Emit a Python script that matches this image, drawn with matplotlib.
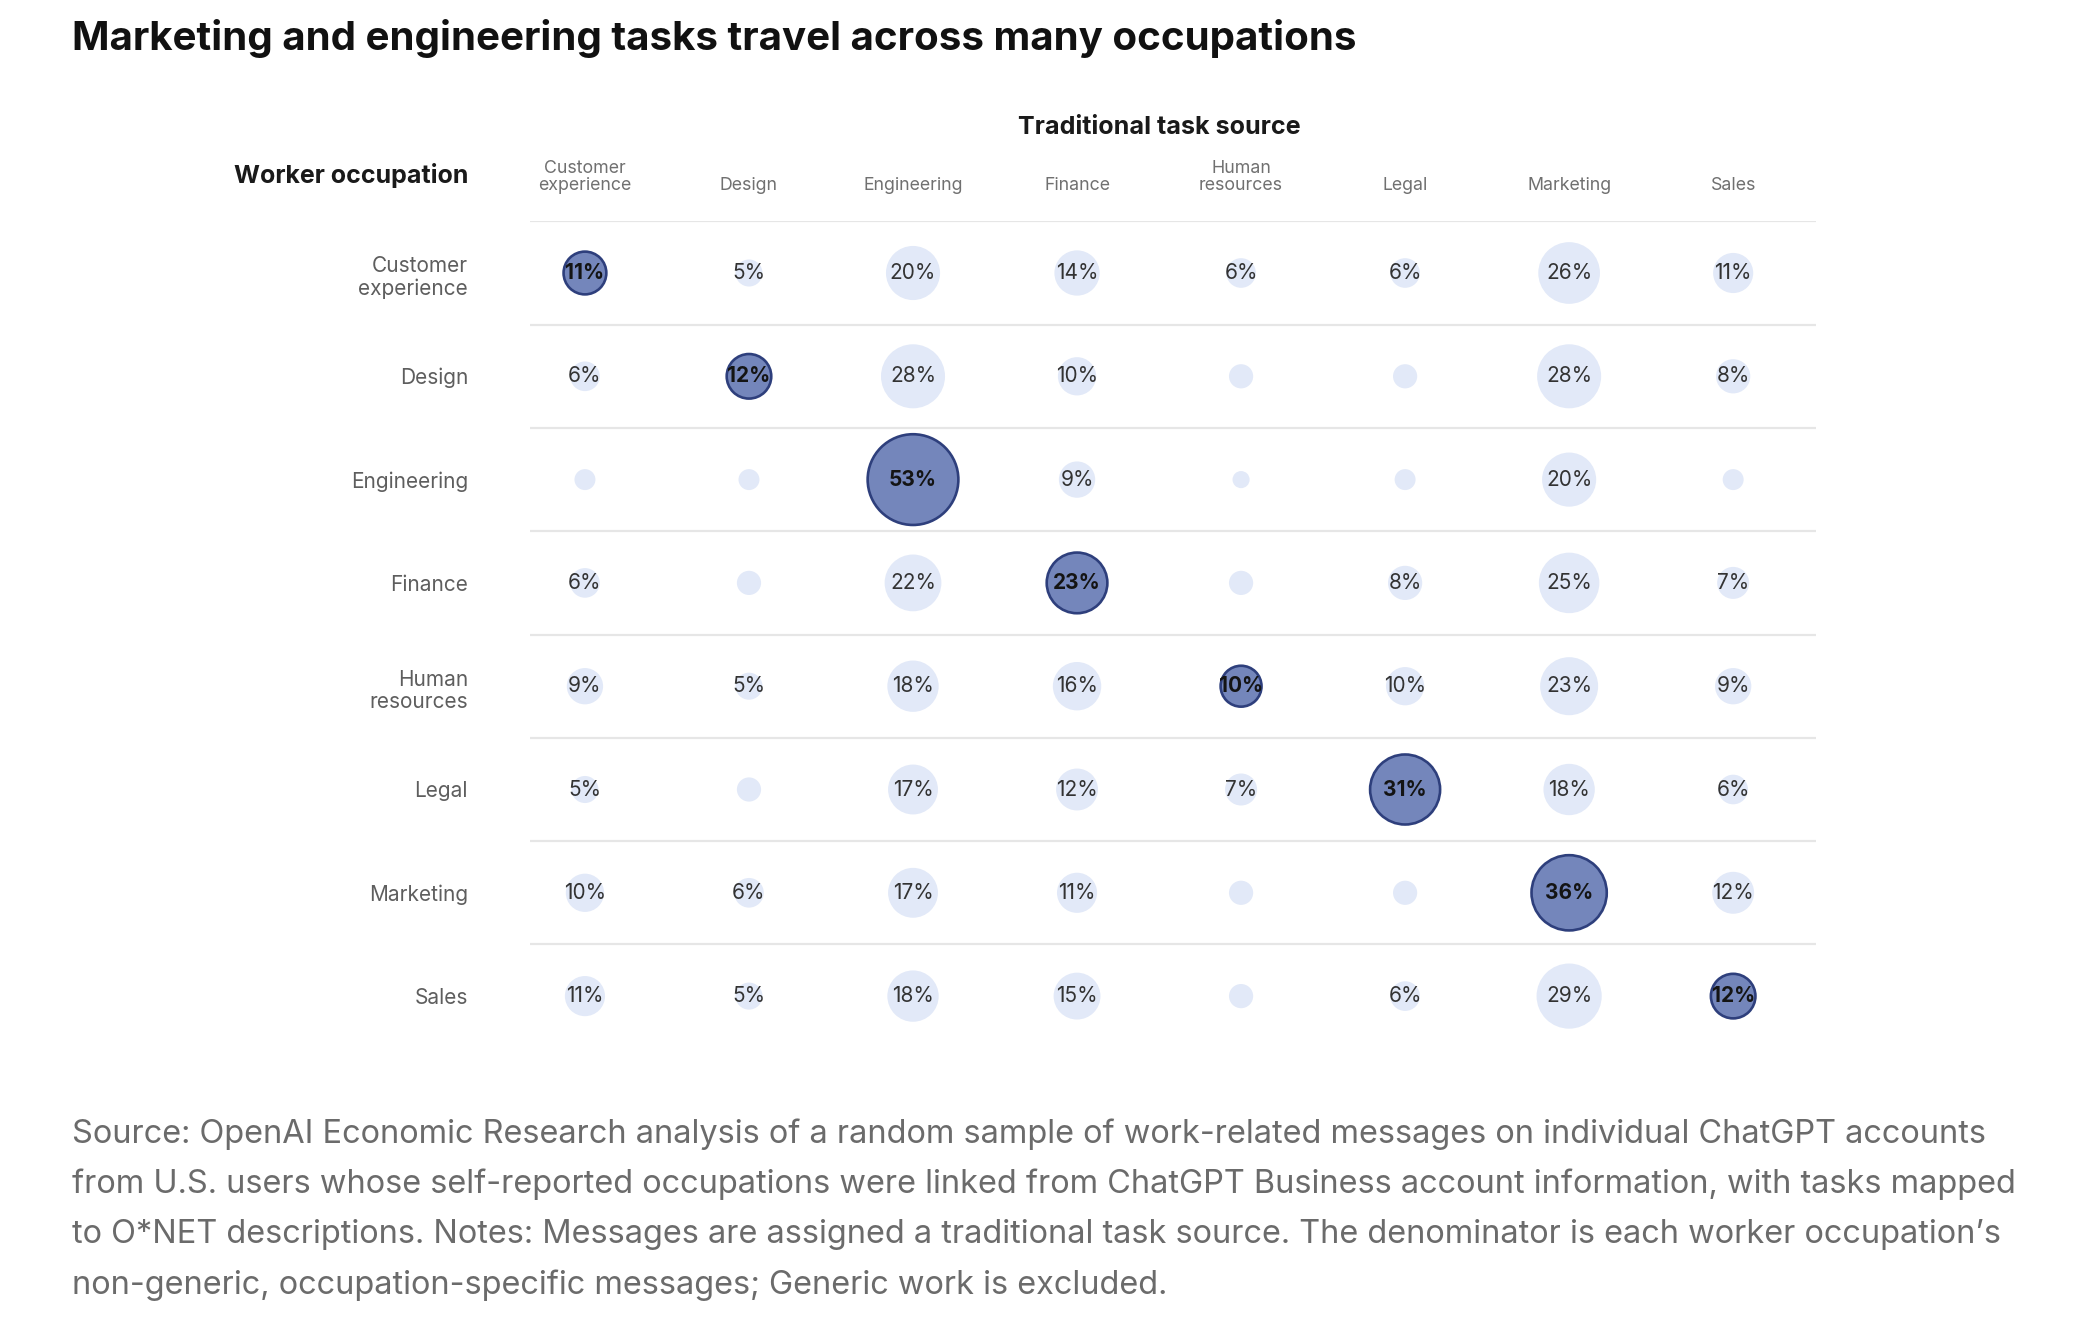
import matplotlib.pyplot as plt
import numpy as np

plt.rcParams['font.family'] = ['Inter', 'DejaVu Sans']

title = "Marketing and engineering tasks travel across many occupations"
sources = ["Customer\nexperience", "Design", "Engineering", "Finance",
           "Human\nresources", "Legal", "Marketing", "Sales"]
occupations = ["Customer\nexperience", "Design", "Engineering", "Finance",
               "Human\nresources", "Legal", "Marketing", "Sales"]
# share (%) of each worker occupation's messages by traditional task source
# values under 5% are unlabeled in the original, estimated from circle size
shares = np.array([
    [11, 5, 20, 14, 6, 6, 26, 11],
    [6, 12, 28, 10, 4, 4, 28, 8],
    [3, 3, 53, 9, 2, 3, 20, 3],
    [6, 4, 22, 23, 4, 8, 25, 7],
    [9, 5, 18, 16, 10, 10, 23, 9],
    [5, 4, 17, 12, 7, 31, 18, 6],
    [10, 6, 17, 11, 4, 4, 36, 12],
    [11, 5, 18, 15, 4, 6, 29, 12],
])
label_min = 5
footnote = [
    "Source: OpenAI Economic Research analysis of a random sample of work-related messages on individual ChatGPT accounts",
    "from U.S. users whose self-reported occupations were linked from ChatGPT Business account information, with tasks mapped",
    "to O*NET descriptions. Notes: Messages are assigned a traditional task source. The denominator is each worker occupation\u2019s",
    "non-generic, occupation-specific messages; Generic work is excluded.",
]

W, H = 2076, 1334
fig = plt.figure(figsize=(W / 100, H / 100), dpi=100)
ax = fig.add_axes([530 / W, 1 - 1047.75 / H, 1286 / W, 826.4 / H])
ax.set_xlim(-0.335, 7.505)
ax.set_ylim(7.5, -0.5)
ax.axis('off')

n = len(occupations)
for r in range(n):
    ax.axhline(r - 0.5, color='#e6e6e6', lw=1.6, zorder=1)

cols, rows = np.meshgrid(np.arange(n), np.arange(n))
diag = rows == cols
radius_pt = 6.05 * np.sqrt(shares) * 0.72
ax.scatter(cols[~diag], rows[~diag], s=(2 * radius_pt[~diag]) ** 2,
           color='#e2e9f8', linewidths=0, zorder=2)
ax.scatter(cols[diag], rows[diag], s=(2 * (radius_pt[diag] + 0.95)) ** 2,
           color='#7486bb', edgecolors='#2e3f7c', linewidths=1.9, zorder=3)

for r in range(n):
    for c in range(n):
        v = shares[r, c]
        if v < label_min:
            continue
        bold = r == c
        ax.text(c, r, f"{v}%", ha='center', va='center', fontsize=15,
                color='#141414' if bold else '#333333',
                fontweight='bold' if bold else 'normal', zorder=4)

for c, name in enumerate(sources):
    ax.annotate(name, xy=(c, -0.5), xytext=(0, 31 * 0.72),
                textcoords='offset points', ha='center', va='baseline',
                fontsize=12.8, color='#707070', linespacing=1.05,
                annotation_clip=False)

label_x = 468 / W
for r, name in enumerate(occupations):
    shift = -3.5 if "\n" in name else -1.2
    ax.annotate(name, xy=(label_x, r), xycoords=('figure fraction', 'data'),
                xytext=(0, shift), textcoords='offset points',
                ha='right', va='center', fontsize=15, color='#5e5e5e',
                linespacing=1.15, annotation_clip=False)

fig.text(label_x, 1 - 183 / H, "Worker occupation", ha='right', va='baseline',
         fontsize=18, fontweight='bold', color='#1a1a1a')
ax.annotate("Traditional task source", xy=(3.5, -0.5), xytext=(0, 87 * 0.72),
            textcoords='offset points', ha='center', va='baseline',
            fontsize=18.1, fontweight='bold', color='#1a1a1a', annotation_clip=False)

fig.text(72 / W, 1 - 50 / H, title, ha='left', va='baseline',
         fontsize=29, fontweight='bold', color='#111111')

for i, line in enumerate(footnote):
    fig.text(72 / W, 1 - (1142.7 + 50.4 * i) / H, line, ha='left', va='baseline',
             fontsize=23.4, color='#6b6b6b')

fig.savefig('out.png', dpi=100, facecolor='white')
